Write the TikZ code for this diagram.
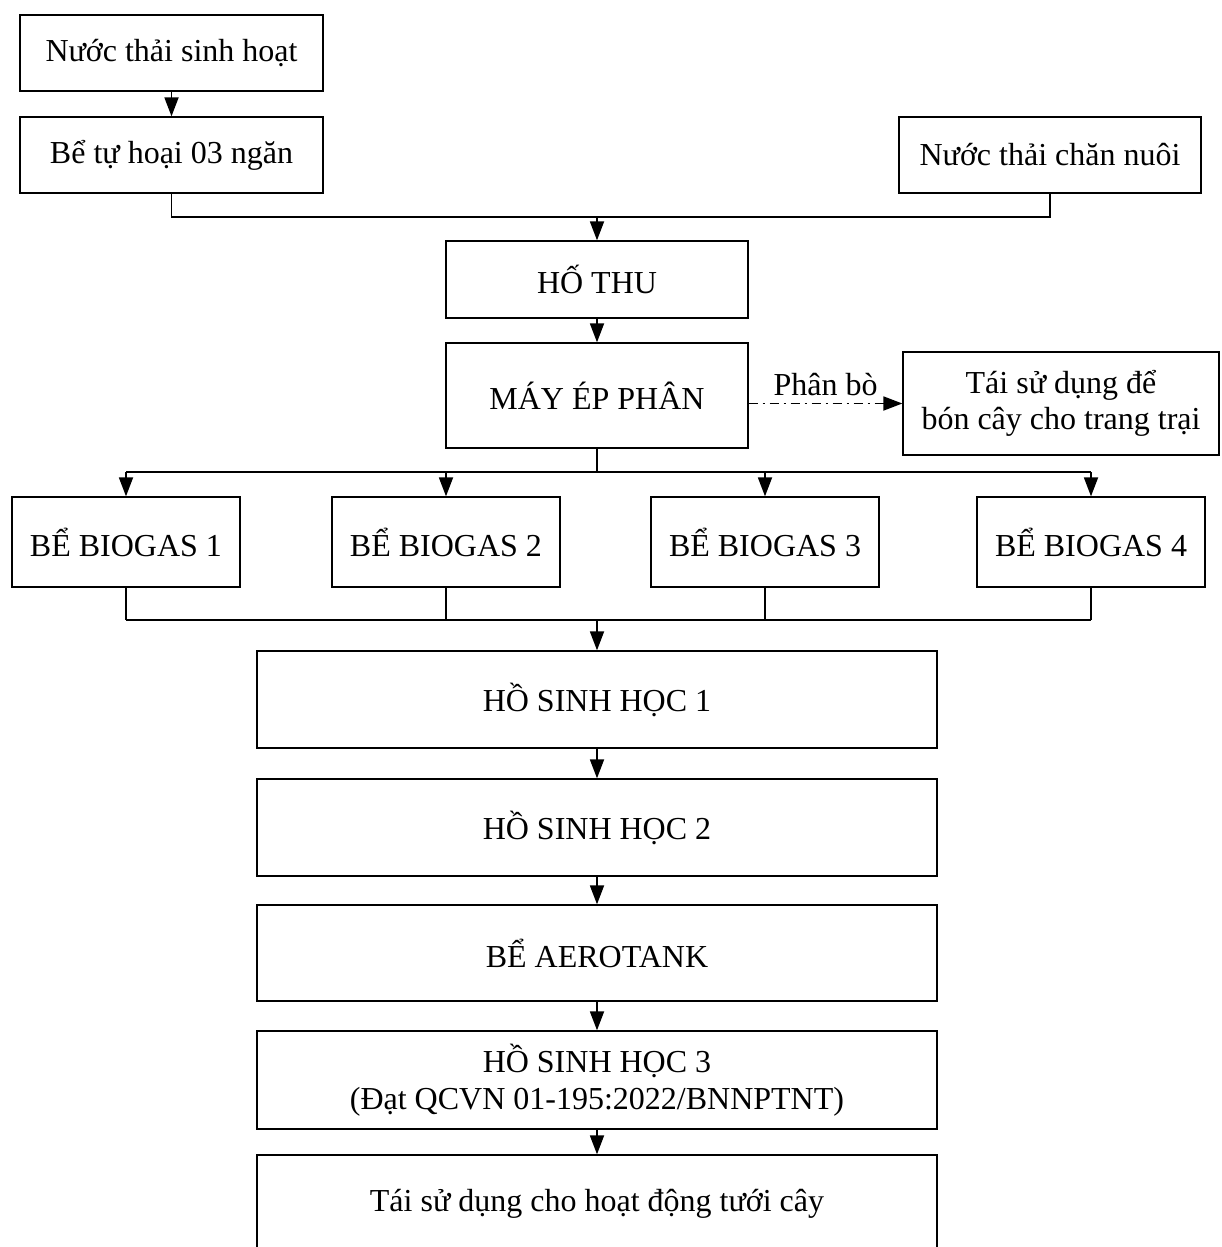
\documentclass[tikz,border=0pt]{standalone}
\usepackage{fontspec}
\setmainfont{Liberation Serif}
\usetikzlibrary{arrows.meta}
\tikzset{>={Triangle[length=19pt,width=14pt]}}

\begin{document}
\begin{tikzpicture}[x=1pt, y=-1pt, line width=1.8pt,
    box/.style={draw, line width=1.3pt, inner sep=0pt, align=center,
      font=\fontsize{32}{36.5}\selectfont},
    ddot/.style={->, dash pattern=on 9pt off 5pt on 2pt off 5pt}]
      \clip (0,0) rectangle (1221,1247);
      % inputs
      \node[box, minimum width=303pt, minimum height=76pt] (sinhhoat) at (171.5,53) {Nước thải sinh hoạt};
      \node[box, minimum width=303pt, minimum height=76pt] (tuhoai) at (171.5,155) {Bể tự hoại 03 ngăn};
      \node[box, minimum width=302pt, minimum height=76pt] (channuoi) at (1050,155) {Nước thải chăn nuôi};
      \node[box, minimum width=302pt, minimum height=77pt] (hothu) at (597,279.5) {HỐ THU};
      \node[box, minimum width=302pt, minimum height=105pt] (mayep) at (597,395.5) {MÁY ÉP PHÂN};
      \node[box, minimum width=316pt, minimum height=103pt] (taisd) at (1061,403.5) {Tái sử dụng để\\bón cây cho trang trại};
      % biogas tanks
      \node[box, minimum width=228pt, minimum height=90pt] (biogas1) at (126,542) {BỂ BIOGAS 1};
      \node[box, minimum width=228pt, minimum height=90pt] (biogas2) at (446,542) {BỂ BIOGAS 2};
      \node[box, minimum width=228pt, minimum height=90pt] (biogas3) at (765,542) {BỂ BIOGAS 3};
      \node[box, minimum width=228pt, minimum height=90pt] (biogas4) at (1091,542) {BỂ BIOGAS 4};
      % treatment line
      \node[box, minimum width=680pt, minimum height=97pt] (hsh1) at (597,699.5) {HỒ SINH HỌC 1};
      \node[box, minimum width=680pt, minimum height=97pt] (hsh2) at (597,827.5) {HỒ SINH HỌC 2};
      \node[box, minimum width=680pt, minimum height=96pt] (aero) at (597,953) {BỂ AEROTANK};
      \node[box, minimum width=680pt, minimum height=98pt] (hsh3) at (597,1080) {HỒ SINH HỌC 3\\(Đạt QCVN 01-195:2022/BNNPTNT)};
      \node[box, minimum width=680pt, minimum height=97pt] (tuoi) at (597,1203.5) {Tái sử dụng cho hoạt động tưới cây};
      \coordinate (J1) at (597,217);
      \coordinate (J2) at (597,472);
      \coordinate (J3) at (597,620);
      \draw[->] (sinhhoat) -- (tuhoai);
      \draw (tuhoai.south) |- (J1) -| (channuoi.south);
      \draw[->] (J1) -- (hothu);
      \draw[->] (hothu) -- (mayep);
      \draw[ddot] (mayep.east |- taisd.west) -- node[above, font=\fontsize{32}{36}\selectfont, inner sep=7pt] (phanbo) {Phân bò} (taisd.west);
      \draw (mayep) -- (J2);
      \draw (biogas1.north |- J2) -- (biogas4.north |- J2);
      \draw (biogas1.south |- J3) -- (biogas4.south |- J3);
      \foreach \b in {1,...,4} {
        \draw[->] (biogas\b.north |- J2) -- (biogas\b.north);
        \draw (biogas\b.south) -- (biogas\b.south |- J3);
      }
      \draw[->] (J3) -- (hsh1);
      \draw[->] (hsh1) -- (hsh2);
      \draw[->] (hsh2) -- (aero);
      \draw[->] (aero) -- (hsh3);
      \draw[->] (hsh3) -- (tuoi);
    \end{tikzpicture}
\end{document}
